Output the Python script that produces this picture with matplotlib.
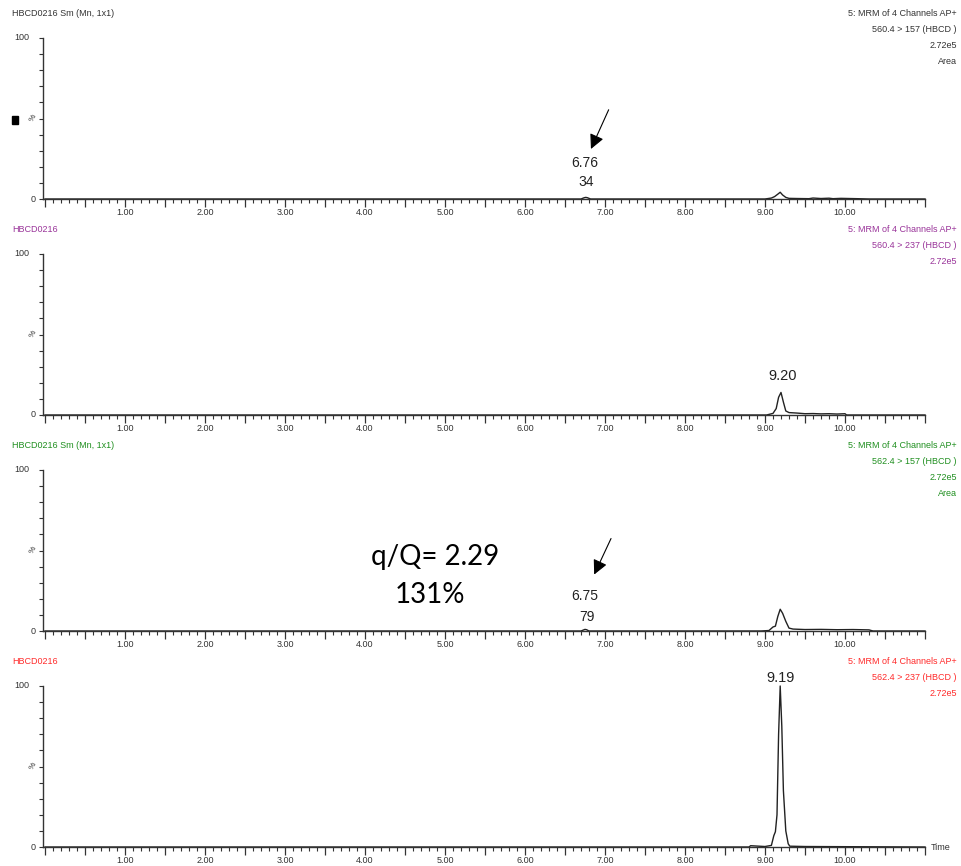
"""Four-channel MRM chromatogram (HBCD0216)."""

import matplotlib.pyplot as plt
from matplotlib.patches import Rectangle
from matplotlib.ticker import MultipleLocator, FixedLocator

# chromatogram traces (time in min, relative intensity in %)
t_q1 = [0.0, 6.70, 6.74, 6.76, 6.78, 6.82, 9.00, 9.08, 9.12, 9.16, 9.19, 9.22,
        9.26, 9.30, 9.40, 9.55, 9.60, 9.70, 9.80, 9.85, 9.95, 10.05, 10.15, 10.30, 11.0]
i_q1 = [0.0, 0.0, 0.8, 1.0, 0.8, 0.0, 0.0, 0.6, 1.5, 3.0, 4.2, 2.5,
        1.0, 0.4, 0.3, 0.2, 0.6, 0.3, 0.5, 0.2, 0.4, 0.3, 0.2, 0.0, 0.0]

t_q2 = [0.0, 9.02, 9.10, 9.14, 9.17, 9.20, 9.23, 9.26, 9.30, 9.40, 9.50,
        9.60, 9.70, 9.80, 9.90, 10.00, 10.02, 11.0]
i_q2 = [0.0, 0.0, 1.0, 4.0, 11.0, 14.0, 8.0, 2.5, 1.5, 1.2, 0.8,
        0.9, 0.7, 0.8, 0.6, 0.8, 0.0, 0.0]

t_q3 = [0.0, 6.70, 6.74, 6.75, 6.77, 6.80, 8.95, 9.05, 9.10, 9.13, 9.16, 9.19,
        9.22, 9.26, 9.30, 9.35, 9.50, 9.70, 9.90, 10.10, 10.30, 10.35, 11.0]
i_q3 = [0.0, 0.0, 0.8, 1.0, 0.8, 0.0, 0.0, 0.3, 2.5, 3.0, 9.0, 13.5,
        11.0, 6.0, 1.8, 1.2, 0.9, 1.0, 0.8, 0.9, 0.7, 0.0, 0.0]

t_q4 = [0.0, 8.80, 8.82, 9.00, 9.08, 9.11, 9.13, 9.15, 9.17, 9.19, 9.21,
        9.23, 9.26, 9.29, 9.31, 9.50, 11.0]
i_q4 = [0.0, 0.0, 0.8, 0.3, 1.0, 7.0, 9.5, 20.0, 70.0, 100.0, 75.0,
        35.0, 10.0, 2.0, 0.5, 0.3, 0.0]

times = [t_q1, t_q2, t_q3, t_q4]
intensities = [i_q1, i_q2, i_q3, i_q4]

left_titles = ["HBCD0216 Sm (Mn, 1x1)", "HBCD0216", "HBCD0216 Sm (Mn, 1x1)", "HBCD0216"]
right_titles = [
    ["5: MRM of 4 Channels AP+", "560.4 > 157 (HBCD )", "2.72e5", "Area"],
    ["5: MRM of 4 Channels AP+", "560.4 > 237 (HBCD )", "2.72e5"],
    ["5: MRM of 4 Channels AP+", "562.4 > 157 (HBCD )", "2.72e5", "Area"],
    ["5: MRM of 4 Channels AP+", "562.4 > 237 (HBCD )", "2.72e5"],
]
title_colors = ["#333333", "#993399", "#1f8f1f", "#ff2a2a"]
x_labels = [1, 2, 3, 4, 5, 6, 7, 8, 9, 10]

W, H = 962, 866
fig = plt.figure(figsize=(W / 100, H / 100), dpi=100)
plt.rcParams["font.family"] = ["Liberation Sans", "DejaVu Sans"]


def px(x, y):
    return x / W, 1 - y / H


tops = [38, 254, 470, 686]
ax_h = 161
axes = []
for k, top in enumerate(tops):
    bottom = top + ax_h
    ax = fig.add_axes([43 / W, 1 - bottom / H, (925 - 43) / W, ax_h / H])
    axes.append(ax)
    ax.plot(times[k], intensities[k], color="#222222", lw=1.0, clip_on=False)
    ax.set_xlim(-0.025, 11.0)
    ax.set_ylim(0, 100)
    for s in ("top", "right"):
        ax.spines[s].set_visible(False)
    for s in ("left", "bottom"):
        ax.spines[s].set_color("#333333")
        ax.spines[s].set_linewidth(1.0)
    ax.xaxis.set_major_locator(MultipleLocator(0.5))
    ax.xaxis.set_minor_locator(MultipleLocator(0.1))
    ax.set_xticklabels([])
    ax.tick_params(axis="x", which="major", length=6, width=0.9, color="#333333")
    ax.tick_params(axis="x", which="minor", length=3, width=0.8, color="#333333")
    ax.yaxis.set_major_locator(FixedLocator([0, 100]))
    ax.yaxis.set_minor_locator(FixedLocator([10, 20, 30, 40, 50, 60, 70, 80, 90]))
    ax.set_yticklabels([])
    ax.tick_params(axis="y", which="major", length=3, width=0.8, color="#333333")
    ax.tick_params(axis="y", which="minor", length=3, width=0.8, color="#333333")
    for v in x_labels:
        ax.text(v, -8.4, f"{v:.2f}", ha="center", va="center", fontsize=6.5, color="#333333")
    ax.text(-0.2, 100, "100", ha="right", va="center", fontsize=6.5, color="#333333")
    ax.text(-0.12, 0, "0", ha="right", va="center", fontsize=6.5, color="#333333")
    ax.text(-0.08, 50, "%", ha="right", va="center", fontsize=6, color="#333333", rotation=60)

    fig.text(*px(12, 14 + top - 38), left_titles[k], fontsize=6.5, color=title_colors[k],
             ha="left", va="center")
    for j, line in enumerate(right_titles[k]):
        fig.text(*px(957, 14 + top - 38 + 16 * j), line, fontsize=6.5,
                 color=title_colors[k], ha="right", va="center")

# panel 1 annotations
axes[0].text(6.75, 22.4, "6.76", ha="center", va="center", fontsize=10, color="#222222")
axes[0].text(6.77, 10.6, "34", ha="center", va="center", fontsize=10, color="#222222")
axes[0].annotate("", xy=(6.81, 29.5), xytext=(7.06, 57),
                 arrowprops=dict(arrowstyle="-|>", mutation_scale=22, color="black", lw=0.8))
fig.add_artist(Rectangle(px(12, 124), 6 / W, 8 / H, color="black"))

# panel 2
axes[1].text(9.225, 24.2, "9.20", ha="center", va="center", fontsize=10.5, color="#222222")

# panel 3
axes[2].text(6.75, 21.7, "6.75", ha="center", va="center", fontsize=10, color="#222222")
axes[2].text(6.77, 8.7, "79", ha="center", va="center", fontsize=10, color="#222222")
axes[2].annotate("", xy=(6.85, 33.5), xytext=(7.09, 59),
                 arrowprops=dict(arrowstyle="-|>", mutation_scale=22, color="black", lw=0.8))
axes[2].text(4.88, 46, "q/Q= 2.29", ha="center", va="center", fontsize=20,
             color="black", family=["Lato", "DejaVu Sans"])
axes[2].text(4.81, 22.4, "131%", ha="center", va="center", fontsize=20,
             color="black", family=["Lato", "DejaVu Sans"])

# panel 4
axes[3].text(9.2, 105, "9.19", ha="center", va="center", fontsize=10.5, color="#222222")
axes[3].text(11.07, 0, "Time", ha="left", va="center", fontsize=6.5, color="#333333")

fig.savefig("out.png", dpi=100)
